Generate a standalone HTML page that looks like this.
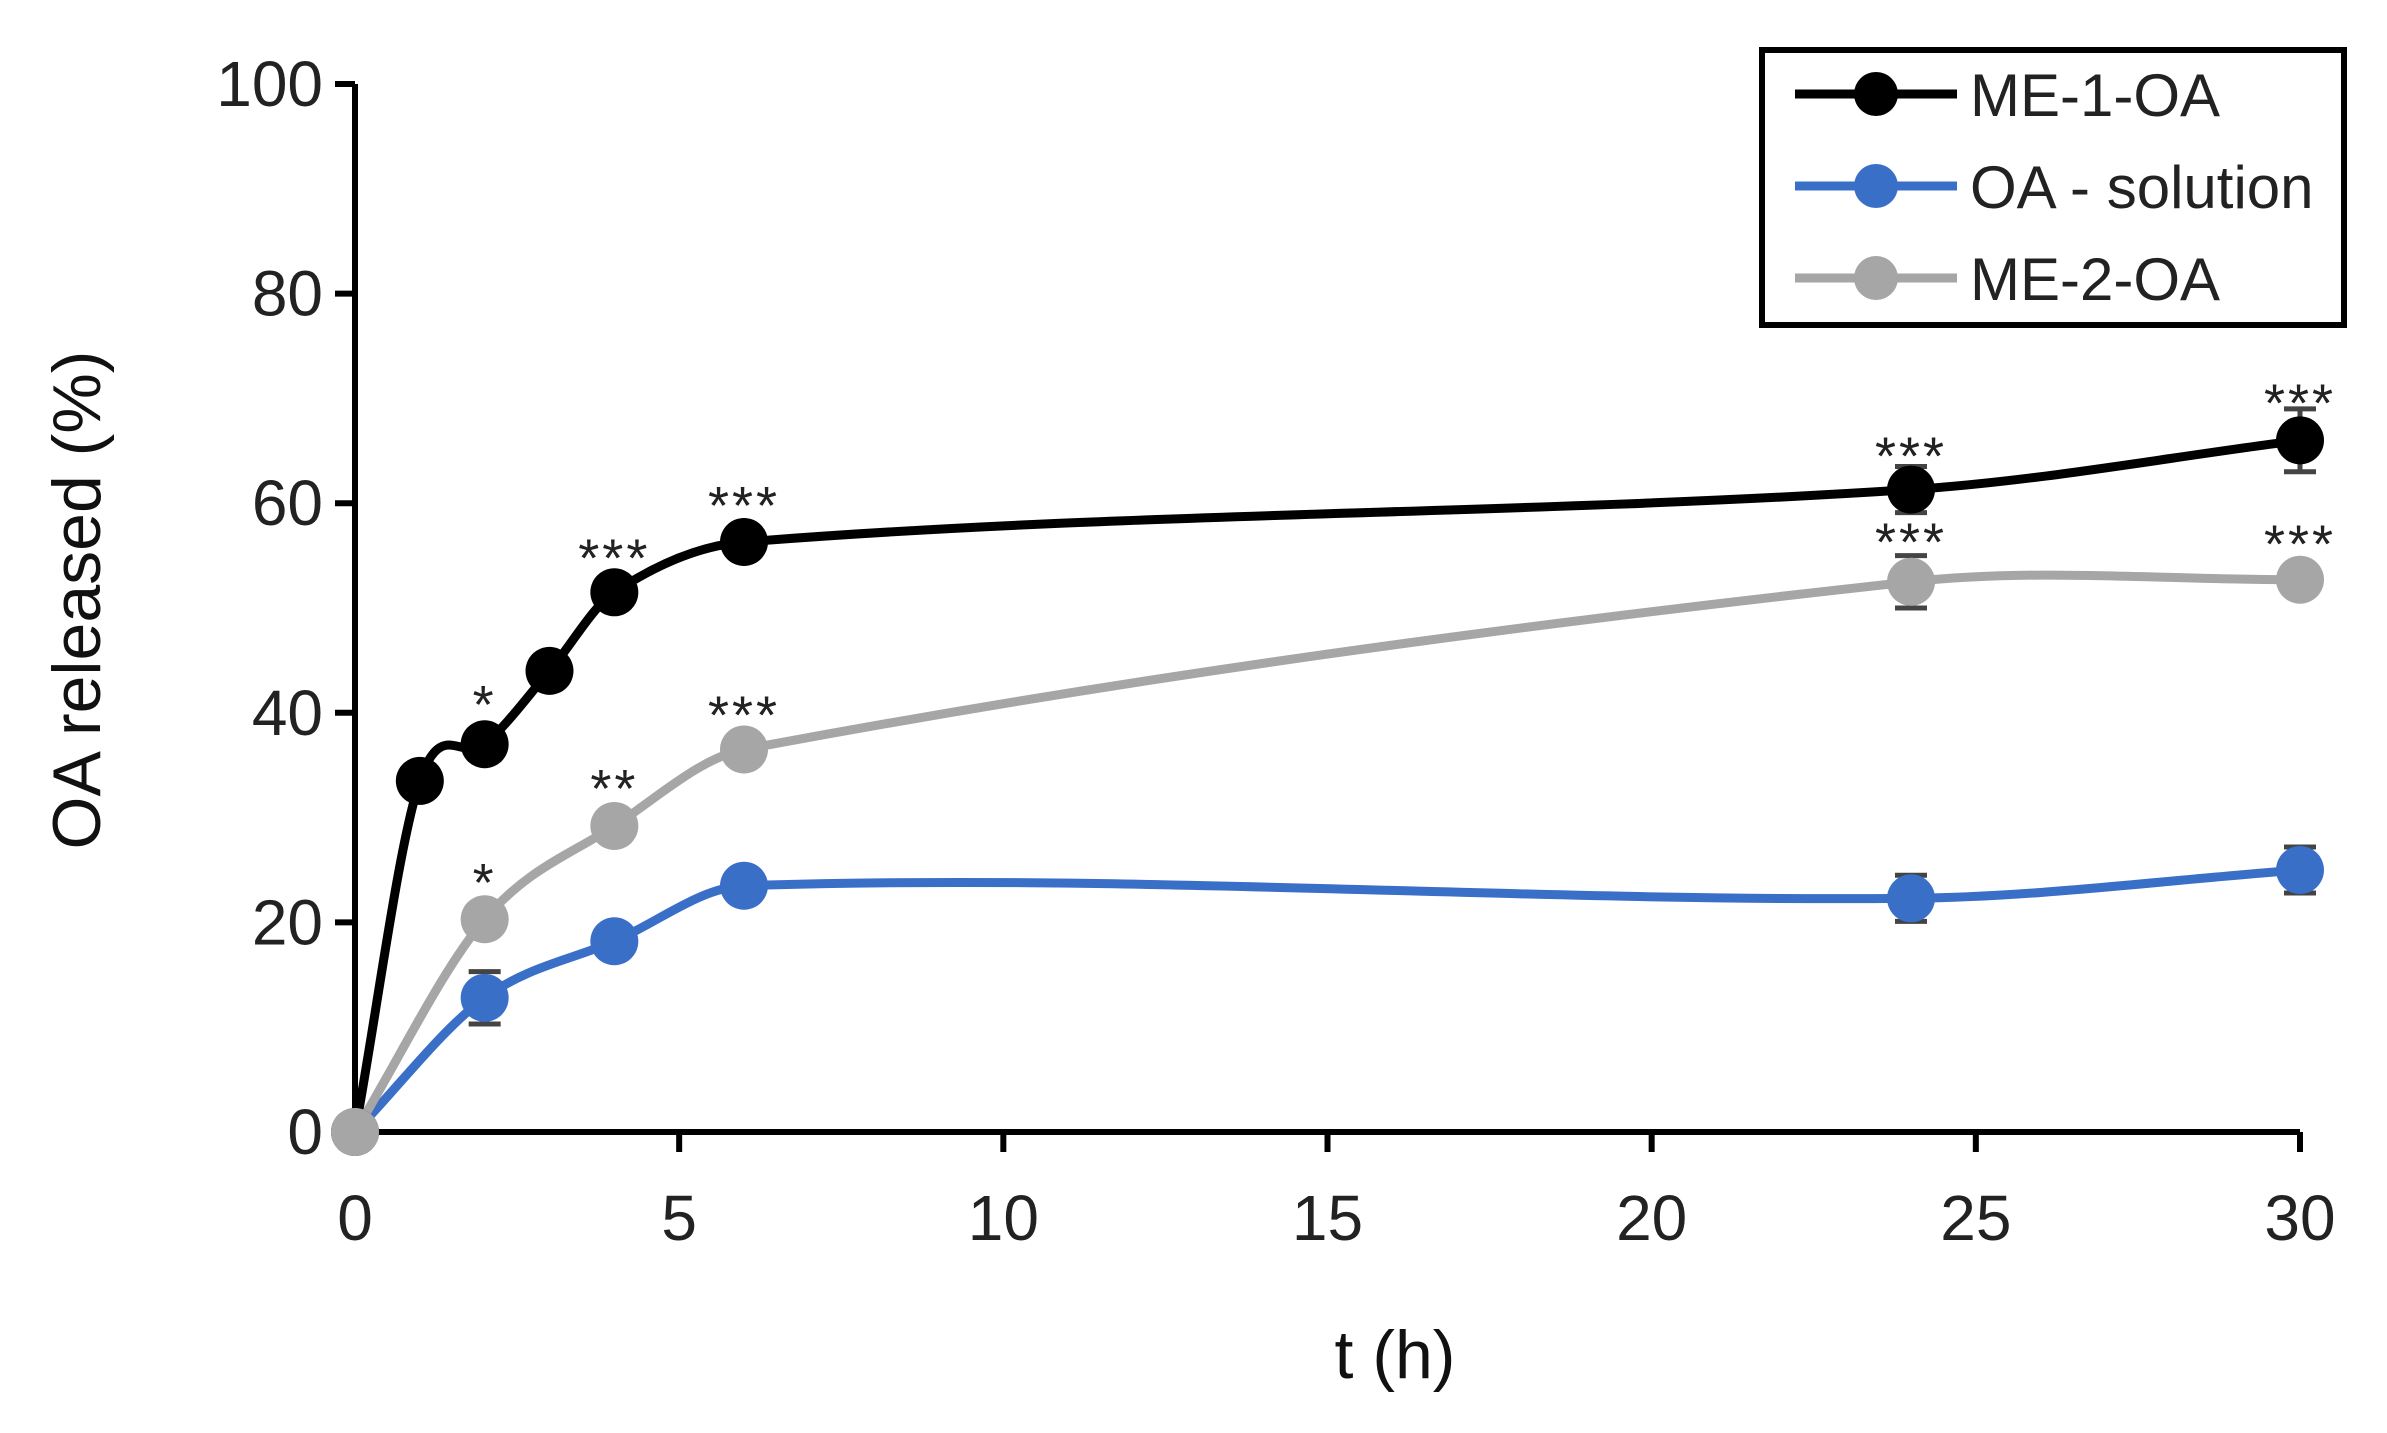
<!DOCTYPE html>
<html><head><meta charset="utf-8"><style>
html,body{margin:0;padding:0;background:#fff;}
svg{display:block;font-family:"Liberation Sans",sans-serif;}
</style></head><body>
<svg id="s" width="2387" height="1433" viewBox="0 0 2387 1433" xmlns="http://www.w3.org/2000/svg"></svg>
<script>
const s=document.getElementById('s');
const X=t=>355+t*(2300-355)/30, Y=v=>1132-v*10.48;
let h='';
h+=`<line x1="${X(0)}" y1="${Y(100)}" x2="${X(0)}" y2="${Y(0)}" stroke="#000" stroke-width="6"/>`;
h+=`<line x1="${X(0)}" y1="${Y(0)}" x2="${X(30)}" y2="${Y(0)}" stroke="#000" stroke-width="6"/>`;
for(let v=0;v<=100;v+=20){h+=`<line x1="${X(0)-20}" y1="${Y(v)}" x2="${X(0)}" y2="${Y(v)}" stroke="#000" stroke-width="6"/>`;
h+=`<text x="${X(0)-32}" y="${Y(v)+22}" font-size="64" text-anchor="end" fill="#222">${v}</text>`;}
for(let t=0;t<=30;t+=5){h+=`<line x1="${X(t)}" y1="${Y(0)}" x2="${X(t)}" y2="${Y(0)+20}" stroke="#000" stroke-width="6"/>`;
h+=`<text x="${X(t)}" y="${Y(0)+108}" font-size="64" text-anchor="middle" fill="#222">${t}</text>`;}
h+=`<text x="1395" y="1378" font-size="68" text-anchor="middle" fill="#111">t (h)</text>`;
h+=`<text transform="translate(100,600) rotate(-90)" font-size="68" text-anchor="middle" fill="#111">OA released (%)</text>`;
function path(p){const P=p.map(q=>[X(q[0]),Y(q[1])]);const n=P.length;const m=[];
for(let i=0;i<n;i++){const a=P[Math.max(i-1,0)],b=P[Math.min(i+1,n-1)];m.push((b[1]-a[1])/(b[0]-a[0]));}
let d=`M${P[0][0]},${P[0][1]}`;
for(let i=0;i<n-1;i++){const dx=(P[i+1][0]-P[i][0])/3;
d+=` C${P[i][0]+dx},${P[i][1]+m[i]*dx} ${P[i+1][0]-dx},${P[i+1][1]-m[i+1]*dx} ${P[i+1][0]},${P[i+1][1]}`;}return d;}
const series=[
{c:'#000',p:[[0,0],[1,33.5],[2,37],[3,44],[4,51.5],[6,56.3],[24,61.3],[30,66]],e:[0,0,0,1.5,0,0,2.2,3]},
{c:'#3a6fc8',p:[[0,0],[2,12.8],[4,18.2],[6,23.5],[24,22.3],[30,25]],e:[0,2.5,0,1,2.2,2.2]},
{c:'#a6a6a6',p:[[0,0],[2,20.3],[4,29.2],[6,36.5],[24,52.5],[30,52.7]],e:[0,0,0,1,2.5,0]}];
for(const S of series){h+=`<path d="${path(S.p)}" fill="none" stroke="${S.c}" stroke-width="9"/>`;}
for(const S of series){S.p.forEach((q,i)=>{const x=X(q[0]),y=Y(q[1]);const e=S.e[i]*10.48;
if(e>0){h+=`<path d="M${x},${y-e}V${y+e}M${x-16},${y-e}H${x+16}M${x-16},${y+e}H${x+16}" stroke="#444" stroke-width="5" fill="none"/>`;}
h+=`<circle cx="${x}" cy="${y}" r="24" fill="${S.c}"/>`;});}
const stars=[[2,41.5,'*'],[4,55.5,'***'],[6,60.5,'***'],[24,65.2,'***'],[30,70.3,'***'],[2,24.5,'*'],[4,33.5,'**'],[6,40.5,'***'],[24,57,'***'],[30,56.8,'***']];
for(const a of stars){h+=`<text x="${X(a[0])}" y="${Y(a[1])+26}" font-size="54" text-anchor="middle" fill="#222" letter-spacing="3">${a[2]}</text>`;}
h+=`<rect x="1762" y="50" width="582" height="275" fill="#fff" stroke="#000" stroke-width="6"/>`;
const lg=[['#000','ME-1-OA',94],['#3a6fc8','OA - solution',186],['#a6a6a6','ME-2-OA',278]];
for(const l of lg){h+=`<line x1="1795" y1="${l[2]}" x2="1957" y2="${l[2]}" stroke="${l[0]}" stroke-width="9"/><circle cx="1876" cy="${l[2]}" r="22" fill="${l[0]}"/>`;
h+=`<text x="1970" y="${l[2]+22}" font-size="60" fill="#222">${l[1]}</text>`;}
s.innerHTML=h;
</script>
</body></html>
